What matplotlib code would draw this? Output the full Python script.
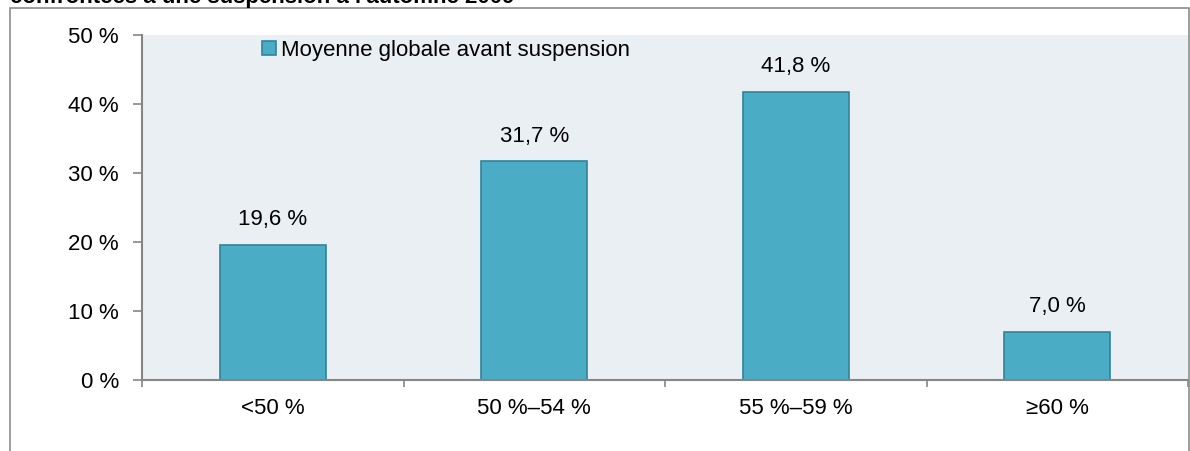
import matplotlib.pyplot as plt
from matplotlib.patches import Rectangle
from matplotlib.ticker import MultipleLocator, FixedLocator

plt.rcParams['font.family'] = ['Liberation Sans', 'DejaVu Sans']

categories = ['<50 %', '50 %\u201354 %', '55 %\u201359 %', '\u226560 %']
values = [19.6, 31.7, 41.8, 7.0]
series_name = 'Moyenne globale avant suspension'
title = "confront\u00e9es \u00e0 une suspension \u00e0 l'automne 2009"

bar_color = '#4BACC6'
edge_color = '#31849B'
axis_color = '#868686'
fs = 16


def fmt(v):
    return f'{v:.1f}'.replace('.', ',') + ' %'


fig = plt.figure(figsize=(11.9, 4.51), dpi=100)
ax = fig.add_axes([142 / 1190, 1 - 380 / 451, 1046 / 1190, 345 / 451])

# outer frame and the heading, whose top runs off the page
fig.patches.append(Rectangle((10 / 1190, -0.1), 1179 / 1190, 1.1 - 8 / 451,
                             transform=fig.transFigure, fill=False,
                             edgecolor='#8c8c8c', linewidth=1.2))
fig.text(10 / 1190, 1 - 3 / 451, title, fontsize=fs, fontweight='bold',
         va='baseline', ha='left')

x = list(range(len(categories)))
bars = ax.bar(x, values, width=0.405, color=bar_color, edgecolor=edge_color,
              linewidth=1.2, label=series_name, zorder=2)
for b, v in zip(bars, values):
    ax.annotate(fmt(v), (b.get_x() + b.get_width() / 2, v), xytext=(0, 10.5),
                textcoords='offset points', ha='center', va='bottom', fontsize=fs)

ax.set_facecolor('#E9EFF3')
ax.set_xlim(-0.5, len(categories) - 0.5)
ax.set_ylim(0, 50)
ax.yaxis.set_major_locator(MultipleLocator(10))
ax.set_yticklabels([f'{int(t)} %' for t in ax.get_yticks()], fontsize=fs)
ax.set_xticks(x)
ax.set_xticklabels(categories, fontsize=fs)
ax.xaxis.set_minor_locator(FixedLocator([i - 0.5 for i in range(len(categories) + 1)]))
ax.tick_params(axis='x', which='major', length=0, pad=13)
ax.tick_params(axis='x', which='minor', length=5, width=1.2, color=axis_color)
ax.tick_params(axis='y', length=6.5, width=1.2, color=axis_color, pad=10)

for side in ['top', 'right']:
    ax.spines[side].set_visible(False)
for side in ['left', 'bottom']:
    ax.spines[side].set_color(axis_color)
    ax.spines[side].set_linewidth(1.5)

ax.legend(loc='upper left', bbox_to_anchor=((262 - 142) / 1046, (380 - 40) / 345),
          frameon=False, fontsize=fs, handlelength=0.62, handleheight=0.62,
          handletextpad=0.25, borderpad=0, borderaxespad=0)

fig.savefig('out.png', dpi=100)
